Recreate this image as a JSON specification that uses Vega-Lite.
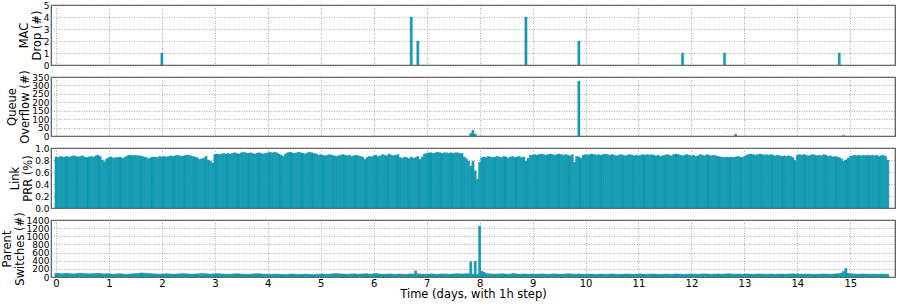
{
"$schema": "https://vega.github.io/schema/vega-lite/v6.json",
"autosize": {"type": "pad"},
"padding": {"left": 0, "top": 0, "right": 3, "bottom": 0},
"bounds": "flush",
"spacing": 12,
"config": {
  "font": "DejaVu Sans",
  "view": {"stroke": "#555555", "strokeWidth": 1.2},
  "axis": {"grid": true, "gridDash": [1, 1.5], "gridColor": "#999999", "gridWidth": 0.8, "domain": false, "tickSize": 0, "labelPadding": 2, "labelFontSize": 9, "labelColor": "#000000", "labelOverlap": false, "labelFlush": false, "titleFontSize": 11.5, "titleFontWeight": "normal", "titleColor": "#000000", "titleLineHeight": 13, "titlePadding": 1}
},
"datasets": {
  "mac": [{"h":48,"v":1},{"h":161,"v":4},{"h":164,"v":2},{"h":213,"v":4},{"h":237,"v":2},{"h":284,"v":1},{"h":303,"v":1},{"h":355,"v":1}],
  "queue": [{"h":188,"v":15},{"h":189,"v":33},{"h":190,"v":12},{"h":237,"v":325},{"h":308,"v":10},{"h":357,"v":3}],
  "hourly": [
{"h":0,"prr":0.85,"sw":95},{"h":1,"prr":0.84,"sw":90},{"h":2,"prr":0.86,"sw":85},{"h":3,"prr":0.85,"sw":80},{"h":4,"prr":0.85,"sw":88},{"h":5,"prr":0.86,"sw":92},{"h":6,"prr":0.85,"sw":85},{"h":7,"prr":0.86,"sw":80},{"h":8,"prr":0.87,"sw":75},{"h":9,"prr":0.86,"sw":82},{"h":10,"prr":0.85,"sw":88},{"h":11,"prr":0.86,"sw":95},{"h":12,"prr":0.87,"sw":90},{"h":13,"prr":0.85,"sw":85},{"h":14,"prr":0.84,"sw":80},{"h":15,"prr":0.85,"sw":78},{"h":16,"prr":0.86,"sw":82},{"h":17,"prr":0.85,"sw":85},{"h":18,"prr":0.87,"sw":88},{"h":19,"prr":0.88,"sw":90},{"h":20,"prr":0.86,"sw":85},{"h":21,"prr":0.80,"sw":80},{"h":22,"prr":0.77,"sw":78},{"h":23,"prr":0.82,"sw":82},
{"h":24,"prr":0.84,"sw":80},{"h":25,"prr":0.85,"sw":75},{"h":26,"prr":0.83,"sw":70},{"h":27,"prr":0.84,"sw":72},{"h":28,"prr":0.84,"sw":78},{"h":29,"prr":0.85,"sw":82},{"h":30,"prr":0.83,"sw":76},{"h":31,"prr":0.84,"sw":70},{"h":32,"prr":0.86,"sw":68},{"h":33,"prr":0.88,"sw":72},{"h":34,"prr":0.88,"sw":75},{"h":35,"prr":0.87,"sw":80},{"h":36,"prr":0.88,"sw":85},{"h":37,"prr":0.87,"sw":88},{"h":38,"prr":0.87,"sw":92},{"h":39,"prr":0.86,"sw":100},{"h":40,"prr":0.85,"sw":95},{"h":41,"prr":0.84,"sw":90},{"h":42,"prr":0.82,"sw":85},{"h":43,"prr":0.84,"sw":80},{"h":44,"prr":0.85,"sw":78},{"h":45,"prr":0.85,"sw":75},{"h":46,"prr":0.84,"sw":72},{"h":47,"prr":0.86,"sw":70},
{"h":48,"prr":0.85,"sw":72},{"h":49,"prr":0.86,"sw":75},{"h":50,"prr":0.85,"sw":80},{"h":51,"prr":0.86,"sw":78},{"h":52,"prr":0.87,"sw":74},{"h":53,"prr":0.86,"sw":70},{"h":54,"prr":0.87,"sw":72},{"h":55,"prr":0.88,"sw":76},{"h":56,"prr":0.87,"sw":80},{"h":57,"prr":0.86,"sw":85},{"h":58,"prr":0.87,"sw":82},{"h":59,"prr":0.88,"sw":78},{"h":60,"prr":0.88,"sw":75},{"h":61,"prr":0.87,"sw":72},{"h":62,"prr":0.86,"sw":70},{"h":63,"prr":0.85,"sw":74},{"h":64,"prr":0.84,"sw":78},{"h":65,"prr":0.81,"sw":82},{"h":66,"prr":0.82,"sw":90},{"h":67,"prr":0.83,"sw":85},{"h":68,"prr":0.86,"sw":80},{"h":69,"prr":0.80,"sw":76},{"h":70,"prr":0.78,"sw":72},{"h":71,"prr":0.75,"sw":75},
{"h":72,"prr":0.89,"sw":78},{"h":73,"prr":0.90,"sw":82},{"h":74,"prr":0.89,"sw":80},{"h":75,"prr":0.90,"sw":76},{"h":76,"prr":0.91,"sw":74},{"h":77,"prr":0.90,"sw":70},{"h":78,"prr":0.91,"sw":68},{"h":79,"prr":0.90,"sw":72},{"h":80,"prr":0.91,"sw":75},{"h":81,"prr":0.92,"sw":78},{"h":82,"prr":0.91,"sw":80},{"h":83,"prr":0.90,"sw":76},{"h":84,"prr":0.92,"sw":72},{"h":85,"prr":0.93,"sw":70},{"h":86,"prr":0.92,"sw":68},{"h":87,"prr":0.91,"sw":66},{"h":88,"prr":0.92,"sw":70},{"h":89,"prr":0.91,"sw":74},{"h":90,"prr":0.90,"sw":78},{"h":91,"prr":0.91,"sw":82},{"h":92,"prr":0.92,"sw":80},{"h":93,"prr":0.91,"sw":76},{"h":94,"prr":0.90,"sw":72},{"h":95,"prr":0.91,"sw":70},
{"h":96,"prr":0.92,"sw":68},{"h":97,"prr":0.93,"sw":66},{"h":98,"prr":0.92,"sw":70},{"h":99,"prr":0.93,"sw":74},{"h":100,"prr":0.92,"sw":72},{"h":101,"prr":0.90,"sw":70},{"h":102,"prr":0.88,"sw":68},{"h":103,"prr":0.86,"sw":66},{"h":104,"prr":0.90,"sw":64},{"h":105,"prr":0.92,"sw":68},{"h":106,"prr":0.93,"sw":72},{"h":107,"prr":0.92,"sw":75},{"h":108,"prr":0.91,"sw":70},{"h":109,"prr":0.92,"sw":68},{"h":110,"prr":0.93,"sw":66},{"h":111,"prr":0.92,"sw":64},{"h":112,"prr":0.91,"sw":68},{"h":113,"prr":0.90,"sw":72},{"h":114,"prr":0.92,"sw":70},{"h":115,"prr":0.93,"sw":66},{"h":116,"prr":0.92,"sw":64},{"h":117,"prr":0.91,"sw":62},{"h":118,"prr":0.90,"sw":66},{"h":119,"prr":0.88,"sw":70},
{"h":120,"prr":0.89,"sw":72},{"h":121,"prr":0.88,"sw":75},{"h":122,"prr":0.87,"sw":70},{"h":123,"prr":0.88,"sw":68},{"h":124,"prr":0.89,"sw":72},{"h":125,"prr":0.88,"sw":76},{"h":126,"prr":0.87,"sw":80},{"h":127,"prr":0.86,"sw":85},{"h":128,"prr":0.87,"sw":82},{"h":129,"prr":0.88,"sw":78},{"h":130,"prr":0.89,"sw":74},{"h":131,"prr":0.88,"sw":70},{"h":132,"prr":0.87,"sw":68},{"h":133,"prr":0.88,"sw":72},{"h":134,"prr":0.86,"sw":76},{"h":135,"prr":0.87,"sw":78},{"h":136,"prr":0.88,"sw":74},{"h":137,"prr":0.87,"sw":70},{"h":138,"prr":0.86,"sw":72},{"h":139,"prr":0.85,"sw":76},{"h":140,"prr":0.81,"sw":80},{"h":141,"prr":0.84,"sw":78},{"h":142,"prr":0.86,"sw":74},{"h":143,"prr":0.85,"sw":70},
{"h":144,"prr":0.87,"sw":80},{"h":145,"prr":0.88,"sw":85},{"h":146,"prr":0.86,"sw":78},{"h":147,"prr":0.87,"sw":74},{"h":148,"prr":0.89,"sw":70},{"h":149,"prr":0.88,"sw":68},{"h":150,"prr":0.87,"sw":72},{"h":151,"prr":0.90,"sw":76},{"h":152,"prr":0.88,"sw":74},{"h":153,"prr":0.87,"sw":70},{"h":154,"prr":0.88,"sw":68},{"h":155,"prr":0.89,"sw":72},{"h":156,"prr":0.84,"sw":75},{"h":157,"prr":0.83,"sw":70},{"h":158,"prr":0.85,"sw":68},{"h":159,"prr":0.84,"sw":66},{"h":160,"prr":0.82,"sw":72},{"h":161,"prr":0.85,"sw":76},{"h":162,"prr":0.83,"sw":74},{"h":163,"prr":0.84,"sw":150},{"h":164,"prr":0.86,"sw":80},{"h":165,"prr":0.81,"sw":72},{"h":166,"prr":0.85,"sw":70},{"h":167,"prr":0.90,"sw":68},
{"h":168,"prr":0.91,"sw":70},{"h":169,"prr":0.92,"sw":72},{"h":170,"prr":0.92,"sw":76},{"h":171,"prr":0.91,"sw":74},{"h":172,"prr":0.92,"sw":70},{"h":173,"prr":0.93,"sw":68},{"h":174,"prr":0.92,"sw":72},{"h":175,"prr":0.91,"sw":75},{"h":176,"prr":0.92,"sw":78},{"h":177,"prr":0.92,"sw":74},{"h":178,"prr":0.91,"sw":70},{"h":179,"prr":0.92,"sw":72},{"h":180,"prr":0.91,"sw":75},{"h":181,"prr":0.92,"sw":78},{"h":182,"prr":0.92,"sw":80},{"h":183,"prr":0.91,"sw":76},{"h":184,"prr":0.91,"sw":74},{"h":185,"prr":0.85,"sw":78},{"h":186,"prr":0.82,"sw":82},{"h":187,"prr":0.78,"sw":85},{"h":188,"prr":0.70,"sw":375},{"h":189,"prr":0.78,"sw":70},{"h":190,"prr":0.62,"sw":390},{"h":191,"prr":0.48,"sw":65},
{"h":192,"prr":0.76,"sw":1250},{"h":193,"prr":0.84,"sw":140},{"h":194,"prr":0.85,"sw":120},{"h":195,"prr":0.84,"sw":85},{"h":196,"prr":0.86,"sw":80},{"h":197,"prr":0.85,"sw":76},{"h":198,"prr":0.84,"sw":72},{"h":199,"prr":0.85,"sw":70},{"h":200,"prr":0.86,"sw":74},{"h":201,"prr":0.85,"sw":78},{"h":202,"prr":0.84,"sw":80},{"h":203,"prr":0.86,"sw":76},{"h":204,"prr":0.85,"sw":72},{"h":205,"prr":0.83,"sw":70},{"h":206,"prr":0.85,"sw":74},{"h":207,"prr":0.86,"sw":90},{"h":208,"prr":0.84,"sw":78},{"h":209,"prr":0.85,"sw":74},{"h":210,"prr":0.86,"sw":70},{"h":211,"prr":0.84,"sw":72},{"h":212,"prr":0.85,"sw":76},{"h":213,"prr":0.78,"sw":74},{"h":214,"prr":0.83,"sw":70},{"h":215,"prr":0.88,"sw":72},
{"h":216,"prr":0.88,"sw":74},{"h":217,"prr":0.89,"sw":70},{"h":218,"prr":0.88,"sw":68},{"h":219,"prr":0.89,"sw":72},{"h":220,"prr":0.90,"sw":76},{"h":221,"prr":0.89,"sw":74},{"h":222,"prr":0.88,"sw":70},{"h":223,"prr":0.89,"sw":68},{"h":224,"prr":0.90,"sw":72},{"h":225,"prr":0.89,"sw":75},{"h":226,"prr":0.88,"sw":78},{"h":227,"prr":0.89,"sw":74},{"h":228,"prr":0.90,"sw":70},{"h":229,"prr":0.89,"sw":68},{"h":230,"prr":0.88,"sw":72},{"h":231,"prr":0.89,"sw":76},{"h":232,"prr":0.88,"sw":80},{"h":233,"prr":0.87,"sw":78},{"h":234,"prr":0.89,"sw":74},{"h":235,"prr":0.76,"sw":70},{"h":236,"prr":0.86,"sw":72},{"h":237,"prr":0.85,"sw":76},{"h":238,"prr":0.83,"sw":74},{"h":239,"prr":0.88,"sw":70},
{"h":240,"prr":0.89,"sw":68},{"h":241,"prr":0.88,"sw":72},{"h":242,"prr":0.89,"sw":74},{"h":243,"prr":0.90,"sw":70},{"h":244,"prr":0.89,"sw":68},{"h":245,"prr":0.88,"sw":66},{"h":246,"prr":0.89,"sw":70},{"h":247,"prr":0.88,"sw":74},{"h":248,"prr":0.89,"sw":72},{"h":249,"prr":0.90,"sw":70},{"h":250,"prr":0.89,"sw":68},{"h":251,"prr":0.88,"sw":72},{"h":252,"prr":0.89,"sw":76},{"h":253,"prr":0.88,"sw":74},{"h":254,"prr":0.87,"sw":70},{"h":255,"prr":0.88,"sw":68},{"h":256,"prr":0.89,"sw":66},{"h":257,"prr":0.88,"sw":70},{"h":258,"prr":0.87,"sw":74},{"h":259,"prr":0.88,"sw":76},{"h":260,"prr":0.89,"sw":72},{"h":261,"prr":0.88,"sw":70},{"h":262,"prr":0.87,"sw":68},{"h":263,"prr":0.88,"sw":72},
{"h":264,"prr":0.87,"sw":74},{"h":265,"prr":0.88,"sw":76},{"h":266,"prr":0.89,"sw":72},{"h":267,"prr":0.88,"sw":70},{"h":268,"prr":0.89,"sw":68},{"h":269,"prr":0.88,"sw":72},{"h":270,"prr":0.89,"sw":76},{"h":271,"prr":0.88,"sw":74},{"h":272,"prr":0.87,"sw":70},{"h":273,"prr":0.88,"sw":68},{"h":274,"prr":0.86,"sw":66},{"h":275,"prr":0.87,"sw":70},{"h":276,"prr":0.88,"sw":72},{"h":277,"prr":0.89,"sw":74},{"h":278,"prr":0.88,"sw":70},{"h":279,"prr":0.87,"sw":68},{"h":280,"prr":0.89,"sw":72},{"h":281,"prr":0.90,"sw":76},{"h":282,"prr":0.89,"sw":74},{"h":283,"prr":0.88,"sw":70},{"h":284,"prr":0.87,"sw":68},{"h":285,"prr":0.88,"sw":66},{"h":286,"prr":0.89,"sw":70},{"h":287,"prr":0.88,"sw":72},
{"h":288,"prr":0.87,"sw":74},{"h":289,"prr":0.88,"sw":72},{"h":290,"prr":0.86,"sw":70},{"h":291,"prr":0.87,"sw":68},{"h":292,"prr":0.89,"sw":72},{"h":293,"prr":0.88,"sw":76},{"h":294,"prr":0.87,"sw":78},{"h":295,"prr":0.89,"sw":74},{"h":296,"prr":0.88,"sw":70},{"h":297,"prr":0.87,"sw":68},{"h":298,"prr":0.88,"sw":72},{"h":299,"prr":0.87,"sw":74},{"h":300,"prr":0.86,"sw":76},{"h":301,"prr":0.85,"sw":72},{"h":302,"prr":0.85,"sw":70},{"h":303,"prr":0.84,"sw":74},{"h":304,"prr":0.85,"sw":78},{"h":305,"prr":0.84,"sw":80},{"h":306,"prr":0.85,"sw":76},{"h":307,"prr":0.84,"sw":72},{"h":308,"prr":0.85,"sw":70},{"h":309,"prr":0.86,"sw":74},{"h":310,"prr":0.85,"sw":72},{"h":311,"prr":0.84,"sw":70},
{"h":312,"prr":0.86,"sw":72},{"h":313,"prr":0.88,"sw":76},{"h":314,"prr":0.89,"sw":74},{"h":315,"prr":0.90,"sw":70},{"h":316,"prr":0.89,"sw":68},{"h":317,"prr":0.88,"sw":72},{"h":318,"prr":0.89,"sw":74},{"h":319,"prr":0.90,"sw":76},{"h":320,"prr":0.89,"sw":72},{"h":321,"prr":0.88,"sw":70},{"h":322,"prr":0.89,"sw":68},{"h":323,"prr":0.88,"sw":72},{"h":324,"prr":0.89,"sw":74},{"h":325,"prr":0.88,"sw":70},{"h":326,"prr":0.87,"sw":68},{"h":327,"prr":0.88,"sw":72},{"h":328,"prr":0.87,"sw":76},{"h":329,"prr":0.86,"sw":74},{"h":330,"prr":0.87,"sw":70},{"h":331,"prr":0.86,"sw":72},{"h":332,"prr":0.87,"sw":74},{"h":333,"prr":0.86,"sw":76},{"h":334,"prr":0.84,"sw":78},{"h":335,"prr":0.79,"sw":74},
{"h":336,"prr":0.88,"sw":76},{"h":337,"prr":0.89,"sw":74},{"h":338,"prr":0.88,"sw":70},{"h":339,"prr":0.89,"sw":68},{"h":340,"prr":0.88,"sw":72},{"h":341,"prr":0.87,"sw":74},{"h":342,"prr":0.88,"sw":70},{"h":343,"prr":0.89,"sw":68},{"h":344,"prr":0.88,"sw":66},{"h":345,"prr":0.87,"sw":70},{"h":346,"prr":0.88,"sw":72},{"h":347,"prr":0.87,"sw":74},{"h":348,"prr":0.89,"sw":76},{"h":349,"prr":0.88,"sw":72},{"h":350,"prr":0.86,"sw":70},{"h":351,"prr":0.87,"sw":68},{"h":352,"prr":0.85,"sw":72},{"h":353,"prr":0.86,"sw":76},{"h":354,"prr":0.85,"sw":78},{"h":355,"prr":0.84,"sw":80},{"h":356,"prr":0.82,"sw":100},{"h":357,"prr":0.78,"sw":140},{"h":358,"prr":0.80,"sw":210},{"h":359,"prr":0.83,"sw":90},
{"h":360,"prr":0.86,"sw":80},{"h":361,"prr":0.87,"sw":78},{"h":362,"prr":0.88,"sw":74},{"h":363,"prr":0.87,"sw":72},{"h":364,"prr":0.88,"sw":70},{"h":365,"prr":0.87,"sw":74},{"h":366,"prr":0.88,"sw":76},{"h":367,"prr":0.87,"sw":72},{"h":368,"prr":0.88,"sw":70},{"h":369,"prr":0.87,"sw":68},{"h":370,"prr":0.88,"sw":72},{"h":371,"prr":0.87,"sw":74},{"h":372,"prr":0.88,"sw":70},{"h":373,"prr":0.86,"sw":68},{"h":374,"prr":0.87,"sw":72},{"h":375,"prr":0.88,"sw":74},{"h":376,"prr":0.86,"sw":70},{"h":377,"prr":0.80,"sw":68}
  ]
},
"vconcat": [
  {
    "width": 844, "height": 60,
    "data": {"name": "mac"},
    "mark": {"type": "bar", "width": 2.2, "clip": true, "fill": "#12a0b8", "stroke": "#0b8398", "strokeWidth": 0.4},
    "encoding": {
      "x": {"field": "h", "type": "quantitative", "scale": {"domain": [0, 378], "nice": false, "zero": false}, "axis": {"values": [0,24,48,72,96,120,144,168,192,216,240,264,288,312,336,360], "labels": false, "title": null}},
      "y": {"field": "v", "type": "quantitative", "scale": {"domain": [0, 5], "nice": false}, "axis": {"values": [0,1,2,3,4,5], "format": "d", "title": ["MAC", "Drop (#)"]}}
    }
  },
  {
    "width": 844, "height": 59,
    "data": {"name": "queue"},
    "mark": {"type": "bar", "width": 2.2, "clip": true, "fill": "#12a0b8", "stroke": "#0b8398", "strokeWidth": 0.4},
    "encoding": {
      "x": {"field": "h", "type": "quantitative", "scale": {"domain": [0, 378], "nice": false, "zero": false}, "axis": {"values": [0,24,48,72,96,120,144,168,192,216,240,264,288,312,336,360], "labels": false, "title": null}},
      "y": {"field": "v", "type": "quantitative", "scale": {"domain": [0, 350], "nice": false}, "axis": {"values": [0,50,100,150,200,250,300,350], "format": "d", "title": ["Queue", "Overflow (#)"]}}
    }
  },
  {
    "width": 844, "height": 60,
    "data": {"name": "hourly"},
    "mark": {"type": "bar", "width": 2.2, "clip": true, "fill": "#12a0b8", "stroke": "#0b8398", "strokeWidth": 0.4},
    "encoding": {
      "x": {"field": "h", "type": "quantitative", "scale": {"domain": [0, 378], "nice": false, "zero": false}, "axis": {"values": [0,24,48,72,96,120,144,168,192,216,240,264,288,312,336,360], "labels": false, "title": null}},
      "y": {"field": "prr", "type": "quantitative", "scale": {"domain": [0, 1], "nice": false}, "axis": {"values": [0,0.2,0.4,0.6,0.8,1.0], "format": ".1f", "title": ["Link", "PRR (%)"]}}
    }
  },
  {
    "width": 844, "height": 57,
    "data": {"name": "hourly"},
    "mark": {"type": "bar", "width": 2.2, "clip": true, "fill": "#12a0b8", "stroke": "#0b8398", "strokeWidth": 0.4},
    "encoding": {
      "x": {"field": "h", "type": "quantitative", "scale": {"domain": [0, 378], "nice": false, "zero": false}, "axis": {"values": [0,24,48,72,96,120,144,168,192,216,240,264,288,312,336,360], "labelExpr": "datum.value / 24", "labelFontSize": 10, "labelPadding": 1, "title": "Time (days, with 1h step)", "titlePadding": 0}},
      "y": {"field": "sw", "type": "quantitative", "scale": {"domain": [0, 1400], "nice": false}, "axis": {"values": [0,200,400,600,800,1000,1200,1400], "format": "d", "title": ["Parent", "Switches (#)"]}}
    }
  }
]
}
